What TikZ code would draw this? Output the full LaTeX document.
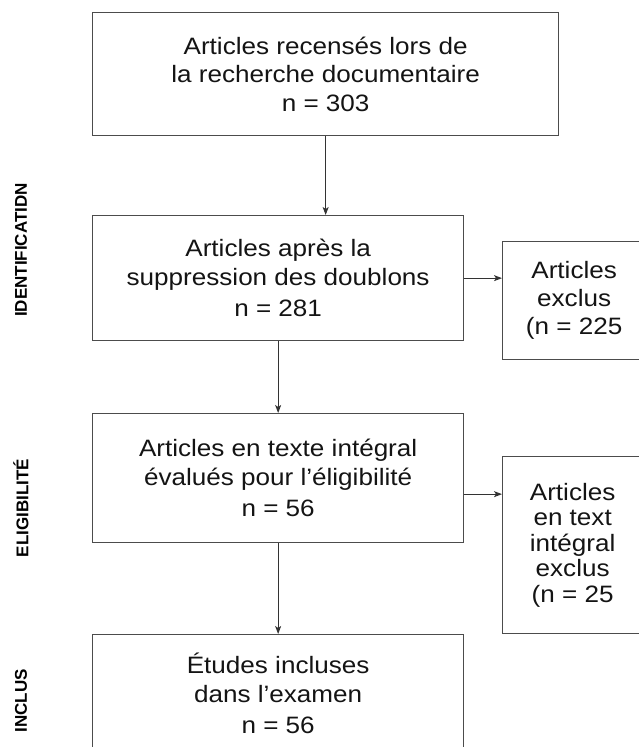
\documentclass[tikz,border=0pt]{standalone}
\usepackage{fontspec}
\setmainfont{Liberation Sans}[FakeStretch=1.1]
\newfontfamily\labfont{Liberation Sans}
\usetikzlibrary{arrows.meta,calc}
\begin{document}
\begin{tikzpicture}[x=1pt,y=-1pt,
  box/.style={draw=black!70, line width=1.3pt, inner sep=0pt, anchor=north west, align=center,
              font=\fontsize{23.7}{28.5}\selectfont, text=black!92},
  arr/.style={draw=black!80, line width=1pt, -{Stealth[length=8pt,width=6pt,inset=2pt]}},
  lab/.style={rotate=90, font=\labfont\bfseries\fontsize{17}{19}\selectfont, text=black}]
\useasboundingbox (0,0) rectangle (638,747);
\node[box, minimum width=466pt, minimum height=123pt] (b1) at (92,12)
  {Articles recensés lors de\\la recherche documentaire\\n = 303};
\node[box, minimum width=371pt, minimum height=125pt] (b2) at (92,215)
  {Articles après la\\suppression des doublons\\[3pt]n = 281};
\node[box, minimum width=143pt, minimum height=118pt, font=\fontsize{23.7}{28}\selectfont] (b3) at (502,241)
  {Articles\\exclus\\(n = 225};
\node[box, minimum width=371pt, minimum height=129pt] (b4) at (92,413)
  {Articles en texte intégral\\évalués pour l’éligibilité\\[3pt]n = 56};
\node[box, minimum width=140pt, minimum height=177pt, font=\fontsize{23.7}{25.5}\selectfont] (b5) at (502,456)
  {Articles\\en text\\intégral\\exclus\\(n = 25};
\node[box, minimum width=371pt, minimum height=118pt] (b6) at (92,634)
  {Études incluses\\dans l’examen\\[3pt]n = 56};
\node[lab] (l1) at (21,250) {IDENTIFICATIDN};
\node[lab] (l2) at (21,508) {ELIGIBILITÉ};
\node[lab] (l3) at (21,701) {INCLUS};
\draw[arr] (b1.south) -- (b1.south |- b2.north);
\draw[arr] (b2.south) -- (b2.south |- b4.north);
\draw[arr] (b4.south) -- (b4.south |- b6.north);
\draw[arr] (b2.east) -- (b2.east -| b3.west);
\draw[arr] ([yshift=-16pt]b4.east) -- ([yshift=-16pt]b4.east -| b5.west);
\end{tikzpicture}
\end{document}
